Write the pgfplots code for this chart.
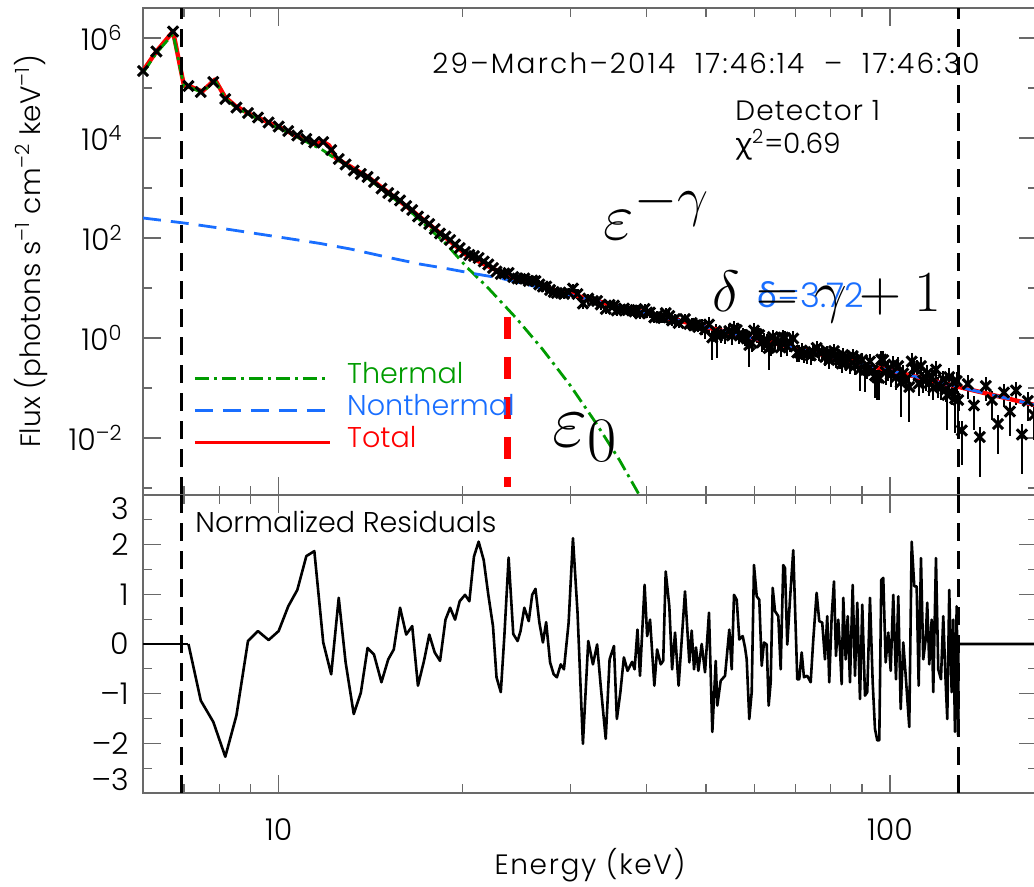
\documentclass[border=0pt]{standalone}
\usepackage{fontspec}
\IfFontExistsTF{Poppins Light}{\setmainfont{Poppins Light}}{\setmainfont{Poppins}}
\newfontfamily\greekfont{Noto Sans}
\usepackage{pgfplots}
\usepackage{pgfplotstable}
\pgfplotsset{compat=1.18}

\definecolor{thermgreen}{RGB}{0,155,0}
\definecolor{ntblue}{RGB}{25,110,255}
\definecolor{totred}{RGB}{255,0,0}
\definecolor{axisgray}{RGB}{105,105,105}

\newcommand\fs[2]{\fontsize{#1}{#2}\selectfont}

% Fitted interval: energy (keV), normalized residual, log10 flux, log10 error bar (+/-)
\pgfplotstableread{
E res lf ep em
7.12 0 5.04 0.02 0.02
7.46 -1.14 4.92 0.02 0.02
7.82 -1.57 5.12 0.02 0.02
8.18 -2.27 4.78 0.02 0.02
8.53 -1.44 4.61 0.02 0.02
8.91 0.06 4.50 0.02 0.02
9.25 0.26 4.41 0.02 0.02
9.63 0.08 4.31 0.02 0.02
10.00 0.26 4.23 0.02 0.02
10.37 0.76 4.14 0.02 0.02
10.73 1.09 4.05 0.02 0.02
11.10 1.77 3.98 0.02 0.02
11.44 1.87 3.91 0.02 0.02
11.83 0.03 3.92 0.02 0.02
12.19 -0.61 3.76 0.02 0.02
12.54 0.93 3.58 0.02 0.02
12.87 -0.37 3.47 0.045 0.05
13.27 -1.41 3.35 0.045 0.05
13.63 -0.98 3.28 0.045 0.05
13.98 -0.08 3.22 0.045 0.05
14.32 -0.21 3.12 0.045 0.05
14.73 -0.77 2.99 0.045 0.05
15.11 -0.31 2.90 0.045 0.05
15.43 -0.11 2.83 0.045 0.05
15.80 0.73 2.75 0.045 0.05
16.17 0.19 2.64 0.045 0.05
16.54 0.36 2.56 0.045 0.05
16.90 -0.84 2.43 0.045 0.05
17.29 -0.34 2.35 0.045 0.05
17.64 0.19 2.28 0.045 0.05
18.00 -0.17 2.18 0.045 0.05
18.37 -0.34 2.09 0.045 0.05
18.75 0.49 2.03 0.045 0.05
19.08 0.73 1.96 0.045 0.05
19.44 0.49 1.87 0.045 0.05
19.78 0.86 1.80 0.045 0.05
20.18 0.99 1.72 0.045 0.05
20.51 0.86 1.66 0.045 0.05
20.87 1.76 1.64 0.045 0.05
21.24 2.06 1.60 0.045 0.05
21.65 1.69 1.53 0.045 0.05
22.03 0.99 1.47 0.045 0.05
22.42 0.36 1.40 0.045 0.05
22.72 -0.67 1.33 0.045 0.05
23.09 -0.97 1.28 0.045 0.05
23.40 0.16 1.29 0.045 0.05
23.78 1.74 1.30 0.045 0.05
24.20 0.20 1.22 0.045 0.05
24.60 0.06 1.19 0.045 0.05
24.87 0.26 1.18 0.09 0.11
25.23 0.73 1.19 0.09 0.11
25.65 0.46 1.14 0.09 0.11
25.99 0.99 1.15 0.09 0.11
26.31 1.11 1.14 0.09 0.11
26.70 0.43 1.07 0.09 0.11
27.06 0.03 1.03 0.09 0.11
27.39 0.44 1.03 0.09 0.11
27.80 -0.37 0.96 0.09 0.11
28.18 -0.61 0.92 0.09 0.11
28.52 -0.67 0.90 0.09 0.11
28.94 -0.41 0.90 0.09 0.11
29.29 -0.51 0.88 0.09 0.11
29.81 0.43 0.91 0.09 0.11
30.30 2.13 0.99 0.09 0.11
30.83 0.63 0.88 0.09 0.11
31.46 -2.01 0.69 0.09 0.11
32.10 0.06 0.79 0.09 0.11
32.67 -0.41 0.74 0.09 0.11
33.19 -0.01 0.74 0.09 0.11
33.64 -0.84 0.67 0.09 0.11
34.28 -1.91 0.58 0.09 0.11
34.79 -0.31 0.66 0.09 0.11
35.36 -0.04 0.65 0.09 0.11
35.75 -1.51 0.55 0.09 0.11
36.23 -0.97 0.57 0.09 0.11
36.71 -0.27 0.59 0.09 0.11
37.22 -0.54 0.56 0.09 0.11
37.87 -0.36 0.55 0.09 0.11
38.22 -0.51 0.53 0.09 0.11
38.64 0.29 0.56 0.09 0.11
39.01 -0.64 0.49 0.09 0.11
39.69 1.19 0.58 0.09 0.11
40.07 0.16 0.51 0.09 0.11
40.51 0.49 0.51 0.09 0.11
41.17 -0.84 0.41 0.09 0.11
41.60 -0.11 0.44 0.09 0.11
42.17 -0.41 0.41 0.09 0.11
42.57 -0.34 0.40 0.09 0.11
42.97 1.46 0.50 0.09 0.11
43.56 0.76 0.44 0.09 0.11
44.02 -0.51 0.35 0.09 0.11
44.51 0.23 0.38 0.09 0.11
45.11 -0.84 0.30 0.09 0.11
46.21 1.06 0.38 0.09 0.11
46.97 -0.37 0.28 0.09 0.11
47.39 0.27 0.30 0.09 0.11
47.81 -0.51 0.25 0.09 0.11
48.17 -0.07 0.26 0.09 0.11
48.59 -0.54 0.22 0.09 0.11
49.21 0.00 0.24 0.14 0.19
49.83 -0.57 0.17 0.14 0.19
50.58 0.63 0.27 0.14 0.19
51.22 -1.77 0.01 0.14 0.45
51.88 -0.34 0.14 0.14 0.19
52.19 -1.24 0.04 0.14 0.45
52.86 -0.74 0.08 0.14 0.19
53.73 -0.64 0.07 0.14 0.19
54.60 0.29 0.14 0.14 0.19
55.10 -0.51 0.05 0.14 0.19
55.58 0.99 0.19 0.14 0.19
56.15 0.89 0.16 0.14 0.19
56.70 0.09 0.07 0.14 0.19
57.43 0.16 0.06 0.14 0.19
57.93 -0.07 0.03 0.14 0.19
58.30 -0.31 -0.01 0.14 0.19
58.87 -1.51 -0.14 0.14 0.45
59.41 -0.97 -0.10 0.14 0.19
59.92 1.59 0.15 0.14 0.19
60.54 0.96 0.08 0.14 0.19
61.13 0.89 0.06 0.14 0.19
61.69 -0.44 -0.09 0.14 0.19
62.22 0.03 -0.05 0.14 0.19
62.86 -0.01 -0.07 0.14 0.19
63.33 -1.24 -0.20 0.14 0.45
63.81 -0.77 -0.17 0.14 0.19
64.30 1.13 0.02 0.14 0.19
64.86 0.66 -0.04 0.14 0.19
65.67 0.56 -0.07 0.14 0.19
66.26 -0.51 -0.19 0.14 0.19
66.91 1.59 0.01 0.14 0.19
67.34 1.53 0.00 0.14 0.19
67.93 -0.01 -0.17 0.14 0.19
68.62 0.89 -0.09 0.14 0.19
69.48 1.89 -0.01 0.14 0.19
70.54 -0.71 -0.29 0.14 0.19
71.07 -0.71 -0.29 0.14 0.19
71.72 -0.17 -0.25 0.14 0.19
72.34 -0.67 -0.31 0.14 0.19
73.24 -0.64 -0.33 0.14 0.19
74.19 -0.77 -0.35 0.14 0.19
74.92 0.09 -0.28 0.14 0.19
75.88 1.03 -0.20 0.14 0.19
76.63 0.46 -0.27 0.14 0.19
77.50 0.43 -0.29 0.14 0.19
78.29 -0.31 -0.38 0.14 0.19
78.97 0.56 -0.30 0.14 0.19
79.57 -0.77 -0.44 0.14 0.19
80.29 0.56 -0.32 0.14 0.19
80.99 1.26 -0.26 0.14 0.19
81.60 -0.24 -0.42 0.14 0.19
82.31 0.49 -0.36 0.14 0.19
82.84 -0.11 -0.43 0.14 0.19
83.37 -0.81 -0.51 0.14 0.19
83.88 0.93 -0.34 0.14 0.19
84.64 -0.31 -0.47 0.14 0.19
85.28 0.56 -0.40 0.14 0.19
86.02 -0.77 -0.54 0.14 0.19
86.90 1.19 -0.36 0.14 0.19
87.66 -0.64 -0.55 0.14 0.19
88.42 0.83 -0.42 0.14 0.19
89.32 -1.11 -0.62 0.14 0.45
90.10 0.79 -0.44 0.14 0.19
91.02 -1.04 -0.64 0.14 0.45
91.81 -0.97 -0.64 0.14 0.19
92.75 0.93 -0.47 0.14 0.19
93.70 -0.77 -0.65 0.14 0.19
94.51 -1.71 -0.75 0.14 0.45
95.33 -1.94 -0.79 0.14 0.45
96.06 -1.94 -0.80 0.14 0.45
96.78 1.29 -0.43 0.17 0.26
97.51 1.33 -0.44 0.17 0.26
98.40 -0.37 -0.68 0.17 0.26
99.37 0.23 -0.61 0.17 0.26
100.27 -0.54 -0.73 0.17 0.26
101.25 0.99 -0.53 0.17 0.26
102.29 -0.71 -0.78 0.17 0.26
103.18 0.96 -0.56 0.17 0.26
104.12 -1.31 -0.89 0.17 0.7
105.14 0.03 -0.71 0.17 0.26
106.21 -0.71 -0.83 0.17 0.26
107.54 -1.67 -0.98 0.17 0.7
108.52 2.06 -0.47 0.17 0.26
109.59 1.16 -0.61 0.17 0.26
110.58 1.16 -0.62 0.17 0.26
111.42 -0.84 -0.91 0.17 0.26
112.39 1.73 -0.56 0.17 0.26
113.36 -0.31 -0.85 0.17 0.26
114.39 0.09 -0.81 0.17 0.26
115.08 0.83 -0.71 0.17 0.26
115.95 -0.41 -0.90 0.17 0.26
117.01 0.49 -0.78 0.17 0.26
117.71 -0.97 -0.99 0.17 0.26
118.92 1.73 -0.63 0.17 0.26
119.95 -0.51 -0.95 0.17 0.26
121.18 -0.71 -0.99 0.17 0.26
122.23 0.56 -0.83 0.17 0.26
123.34 -0.77 -1.03 0.17 0.26
124.09 -1.51 -1.14 0.17 0.7
125.02 1.09 -0.78 0.17 0.26
126.16 -0.97 -1.08 0.17 0.26
126.92 0.49 -0.88 0.17 0.26
127.74 -1.77 -1.21 0.17 0.7
128.56 0.76 -0.86 0.17 0.26
129.33 -1.84 -1.24 0.17 0.7
}\spectrum

% Channels outside the fitted interval (log10 flux)
\pgfplotstableread{
E lf ep em
6.00 5.34 0.02 0.02
6.31 5.73 0.02 0.02
6.72 6.13 0.02 0.02
131.1 -1.85 0.18 0.7
134.1 -0.92 0.17 0.3
137.2 -1.35 0.18 0.5
140.3 -1.98 0.2 0.8
143.5 -0.96 0.17 0.3
146.8 -1.24 0.17 0.4
150.2 -1.72 0.18 0.6
153.6 -1.09 0.17 0.3
157.1 -1.47 0.18 0.5
160.7 -1.05 0.17 0.3
164.4 -1.93 0.2 0.8
168.1 -1.26 0.17 0.4
172.0 -1.54 0.18 0.5
}\outside

\pgfplotsset{
  cutoff/.style={black, line width=1.5pt, dash pattern=on 9pt off 5pt, forget plot},
}

\begin{document}
\begin{tikzpicture}
\useasboundingbox (0pt,0pt) rectangle (517pt,-443.5pt);

% ---------------- photon spectrum ----------------
\begin{axis}[
  scale only axis, width=447pt, height=243.5pt,
  at={(71.5pt,-4pt)}, anchor=north west,
  xmode=log, xmin=6.0, xmax=174,
  ymin=-3.14, ymax=6.6,
  axis line style={axisgray, line width=0.6pt},
  tick style={axisgray, line width=0.6pt},
  major tick length=9pt, minor tick length=4.5pt,
  tick align=inside,
  tick label style={font=\fs{15}{18}},
  xtick={10,100}, minor xtick={7,8,9,20,30,40,50,60,70,80,90},
  xticklabels={},
  ytick={-2,0,2,4,6}, minor ytick={-3,-1,1,3,5},
  yticklabels={10\textsuperscript{–2},10\textsuperscript{0},10\textsuperscript{2},10\textsuperscript{4},10\textsuperscript{6}},
  yticklabel style={anchor=east, inner sep=0pt, xshift=-10pt},
  ylabel={Flux (photons s\textsuperscript{–1} cm\textsuperscript{–2} keV\textsuperscript{–1})},
  ylabel style={at={(axis description cs:-0.1253,0.5)}, anchor=center, font=\fs{14}{17}},
  legend style={at={(axis description cs:0.0559,0.2731)}, anchor=north west,
    draw=none, fill=none, inner sep=0pt, row sep=0pt, column sep=8pt,
    font=\fs{14.3}{17}, nodes={inner sep=0pt, text height=10.5pt, text depth=5.5pt}},
  legend cell align=left,
  legend image code/.code={\draw[#1] (0pt,0pt) -- (67.5pt,0pt);},
]
% observed count flux with error bars
\addplot[only marks, mark=x, mark size=3.6pt, black, mark options={line width=1.5pt},
  error bars/y dir=both, error bars/y explicit, error bars/error mark=none,
  error bars/error bar style={line width=1.1pt}, forget plot]
  table[x=E, y=lf, y error plus=ep, y error minus=em] {\spectrum};
\addplot[only marks, mark=x, mark size=3.6pt, black, mark options={line width=1.5pt},
  error bars/y dir=both, error bars/y explicit, error bars/error mark=none,
  error bars/error bar style={line width=1.1pt}, forget plot]
  table[x=E, y=lf, y error plus=ep, y error minus=em] {\outside};

% total model
\addplot[totred, line width=2.2pt, line join=round, forget plot] coordinates {
 (6.0,5.34) (6.31,5.73) (6.72,6.13) (7.0,5.05) (7.2,5.02) (7.5,4.93) (7.87,5.17)
 (8.17,4.82) (8.5,4.64) (9.0,4.47) (10,4.22) (11,3.97) (11.5,3.87) (11.8,3.93)
 (12.1,3.85) (12.4,3.60) (14,3.22) (16.4,2.58) (18.8,2.00) (20.3,1.66) (21.9,1.45)
 (23,1.32) (24.5,1.19) (28,0.97) (36,0.63) (50,0.22) (70,-0.204) (100,-0.651)
 (130,-0.983) (174,-1.350)};
% thermal component
\addplot[thermgreen, line width=1.4pt, dash pattern=on 7pt off 2.5pt on 1.5pt off 2.5pt, forget plot] coordinates {
 (6.0,5.30) (6.31,5.70) (6.72,6.08) (7.0,5.03) (7.2,5.00) (7.5,4.91) (7.87,5.15)
 (8.17,4.80) (8.5,4.62) (9.0,4.45) (10,4.20) (11,3.95) (11.8,3.76) (12.4,3.58)
 (14,3.19) (16.4,2.54) (18.8,1.88) (20.3,1.42) (21.9,1.03) (24.5,0.39) (27,-0.22)
 (30,-0.95) (33,-1.69) (36.1,-2.44) (38.5,-3.04) (40,-3.41)};
% nonthermal component
\addplot[ntblue, line width=1.4pt, dash pattern=on 9pt off 5pt, forget plot] coordinates {
 (6.0,2.40) (7.0,2.30) (8.0,2.20) (10,2.02) (11.7,1.89) (13.1,1.78) (15,1.62)
 (17,1.48) (19,1.38) (20.8,1.29) (23,1.20) (28,0.95) (36,0.63) (50,0.22)
 (70,-0.204) (100,-0.651) (130,-0.983) (174,-1.350)};

% low-energy cutoff marker
\addplot[totred, line width=3.5pt, dash pattern=on 11pt off 9pt, forget plot]
  coordinates {(23.7,0.42) (23.7,-2.98)};
% fit interval
\addplot[cutoff] coordinates {(6.94,-3.14) (6.94,6.6)};
\addplot[cutoff] coordinates {(129.3,-3.14) (129.3,6.6)};

\addlegendimage{thermgreen, line width=1.4pt, dash pattern=on 7pt off 2.5pt on 1.5pt off 2.5pt}
\addlegendentry[text=thermgreen]{Thermal}
\addlegendimage{ntblue, line width=1.4pt, dash pattern=on 9pt off 5pt}
\addlegendentry[text=ntblue]{Nonthermal}
\addlegendimage{totred, line width=1.4pt}
\addlegendentry[text=totred]{Total}

\node[anchor=base west, inner sep=0pt, font=\fs{14}{17}\addfontfeatures{LetterSpace=8}]
  at (axis description cs:0.3233,0.8645)
  {29–March–2014\ \ 17:46:14\ \ –\ \ 17:46:30};
\node[anchor=base west, inner sep=0pt, font=\fs{14}{17}\addfontfeatures{LetterSpace=4}]
  at (axis description cs:0.6622,0.7700) {Detector 1};
\node[anchor=base west, inner sep=0pt, font=\fs{14}{17}]
  at (axis description cs:0.6622,0.7002) {{\greekfont χ}\textsuperscript{2}=0.69};
\node[anchor=base west, inner sep=0pt, text=ntblue, font=\fs{17}{20}]
  at (axis description cs:0.6868,0.3840) {{\greekfont δ}=3.72};
\node[anchor=base west, inner sep=0pt, font=\fs{24.88}{30}]
  at (axis description cs:0.5150,0.5236) {\scalebox{1.33}{$\varepsilon^{-\gamma}$}};
\node[anchor=base west, inner sep=0pt, font=\fs{24.88}{30}]
  at (axis description cs:0.6365,0.3778) {\scalebox{1.17}{$\delta=\gamma+1$}};
\node[anchor=base west, inner sep=0pt, font=\fs{24.88}{30}]
  at (axis description cs:0.4575,0.0986) {\scalebox{1.53}{$\varepsilon_0$}};
\end{axis}

% ---------------- normalized residuals ----------------
\begin{axis}[
  scale only axis, width=447pt, height=149pt,
  at={(71.5pt,-247.5pt)}, anchor=north west,
  xmode=log, xmin=6.0, xmax=174,
  ymin=-3, ymax=3,
  axis line style={axisgray, line width=0.6pt},
  tick style={axisgray, line width=0.6pt},
  major tick length=9pt, minor tick length=4.5pt,
  tick align=inside,
  tick label style={font=\fs{15}{18}},
  xtick={10,100}, minor xtick={7,8,9,20,30,40,50,60,70,80,90},
  xticklabels={10,100},
  xticklabel style={anchor=base, inner sep=0pt, yshift=-24pt},
  ytick={-3,-2,-1,0,1,2,3}, yticklabels={,–2,–1,0,1,2,},
  minor ytick={-2.5,-1.5,-0.5,0.5,1.5,2.5},
  extra y ticks={-2.73,2.73}, extra y tick labels={–3,3},
  extra y tick style={major tick length=0pt},
  yticklabel style={anchor=east, inner sep=0pt, xshift=-7pt},
  xlabel={Energy (keV)},
  xlabel style={at={(axis description cs:0.5,-0.2752)}, anchor=base,
    font=\fs{14}{17}\addfontfeatures{LetterSpace=6}},
]
\addplot[black, line width=1.3pt, line join=round] coordinates {(6.0,0) (7.12,0)};
\addplot[black, line width=1.3pt, line join=round] table[x=E, y=res] {\spectrum};
\addplot[black, line width=1.3pt, line join=round] coordinates {(129.33,-1.84) (129.4,0) (174,0)};
\addplot[cutoff] coordinates {(6.94,-3) (6.94,3)};
\addplot[cutoff] coordinates {(129.3,-3) (129.3,3)};
\node[anchor=base west, inner sep=0pt, font=\fs{14.3}{17}] at (axis description cs:0.0582,0.8725)
  {Normalized Residuals};
\end{axis}
\end{tikzpicture}
\end{document}
